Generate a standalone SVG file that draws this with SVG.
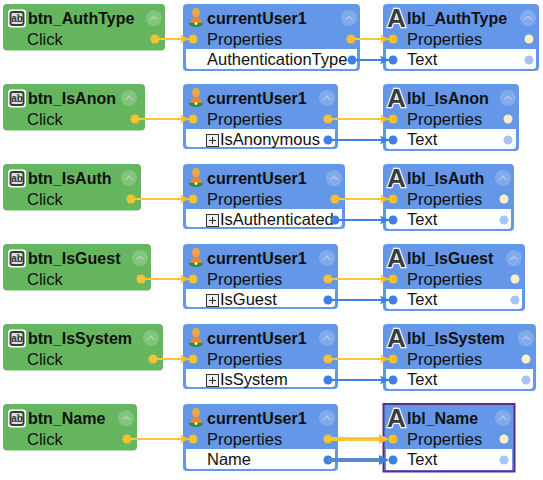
<svg xmlns="http://www.w3.org/2000/svg" xmlns:xlink="http://www.w3.org/1999/xlink" width="543" height="480" viewBox="0 0 543 480">
<style>
text{font-family:"Liberation Sans",Arial,sans-serif;fill:#111}
.t{font-size:16px;font-weight:bold}
.r{font-size:16.5px}
.g{fill:#65b65f}
.b{fill:#6497e8}
.w{fill:#fff}
.y{fill:#fbc02d}
.d{fill:#3f7fe3}
.py{fill:#fdeec6}
.pb{fill:#a5c3f3}
.cy{stroke:#fbc43c;stroke-width:2;fill:none}
.cb{stroke:#3f7fe3;stroke-width:2;fill:none}
.ab{font-size:10px;font-weight:bold;fill:#333}
.A{font-size:26px;font-weight:bold;fill:#3c3c3c;stroke:#fff;stroke-width:2.4px;paint-order:stroke}
</style>
<defs>
<marker id="ay" markerWidth="10" markerHeight="10" refX="9" refY="4.500" orient="auto" markerUnits="userSpaceOnUse"><path d="M0 0L9 4.500L0 9L2 4.500Z" fill="#fbc02d"/></marker>
<marker id="ab" markerWidth="10" markerHeight="10" refX="9" refY="4.500" orient="auto" markerUnits="userSpaceOnUse"><path d="M0 0L9 4.500L0 9L2 4.500Z" fill="#3f7fe3"/></marker>
<g id="col"><circle r="8" fill="#fff" fill-opacity=".2"/><path d="M-3.500 1.500L0-1.500L3.500 1.500" fill="none" stroke="#fff" stroke-opacity=".35" stroke-width="1.600"/></g>
<g id="btn"><rect x="8" y="9.500" width="18" height="18" rx="3" fill="#fff"/><rect x="9.500" y="11" width="15" height="15" rx="3" fill="#3a3a3a"/><rect x="11.500" y="13" width="11" height="11" rx="1" fill="#ddd"/></g>
<g id="usr"><ellipse cx="196" cy="23.500" rx="7" ry="3.500" fill="#2f8a3a"/><path d="M190 23C190.500 18 193 17 196 17C199 17 201.500 18 202 23Z" fill="#d98a3a"/><ellipse cx="196" cy="12.500" rx="4" ry="4.800" fill="#f0a24e"/><circle cx="196" cy="23.500" r="1.500" fill="#e8f5e8"/></g>
<g id="plus"><rect x="206.500" y="54.500" width="12" height="12" fill="#eee" stroke="#333"/><path d="M209 60.500H216M212.500 57V64" stroke="#333"/></g>
</defs>

<g id="btn_AuthType"><rect class="g" x="3" y="4" width="162" height="46.500" rx="4"/><use xlink:href="#btn"/><text class="ab" x="17" y="22" text-anchor="middle">ab</text><text class="t" x="28" y="24">btn_AuthType</text><text class="r" x="27" y="45">Click</text><use xlink:href="#col" x="154" y="18"/><circle class="y" cx="155" cy="39" r="4.500"/></g>
<g id="btn_IsAnon" transform="translate(0 80)"><rect class="g" x="3" y="4" width="142" height="46.500" rx="4"/><use xlink:href="#btn"/><text class="ab" x="17" y="22" text-anchor="middle">ab</text><text class="t" x="28" y="24">btn_IsAnon</text><text class="r" x="27" y="45">Click</text><use xlink:href="#col" x="129" y="18"/><circle class="y" cx="135" cy="39" r="4.500"/></g>
<g id="btn_IsAuth" transform="translate(0 160)"><rect class="g" x="3" y="4" width="138" height="46.500" rx="4"/><use xlink:href="#btn"/><text class="ab" x="17" y="22" text-anchor="middle">ab</text><text class="t" x="28" y="24">btn_IsAuth</text><text class="r" x="27" y="45">Click</text><use xlink:href="#col" x="129" y="18"/><circle class="y" cx="131" cy="39" r="4.500"/></g>
<g id="btn_IsGuest" transform="translate(0 240)"><rect class="g" x="3" y="4" width="148" height="46.500" rx="4"/><use xlink:href="#btn"/><text class="ab" x="17" y="22" text-anchor="middle">ab</text><text class="t" x="28" y="24">btn_IsGuest</text><text class="r" x="27" y="45">Click</text><use xlink:href="#col" x="140" y="18"/><circle class="y" cx="141" cy="39" r="4.500"/></g>
<g id="btn_IsSystem" transform="translate(0 320)"><rect class="g" x="3" y="4" width="160" height="46.500" rx="4"/><use xlink:href="#btn"/><text class="ab" x="17" y="22" text-anchor="middle">ab</text><text class="t" x="28" y="24">btn_IsSystem</text><text class="r" x="27" y="45">Click</text><use xlink:href="#col" x="151" y="18"/><circle class="y" cx="153" cy="39" r="4.500"/></g>
<g id="btn_Name" transform="translate(0 400)"><rect class="g" x="3" y="4" width="134" height="46.500" rx="4"/><use xlink:href="#btn"/><text class="ab" x="17" y="22" text-anchor="middle">ab</text><text class="t" x="28" y="24">btn_Name</text><text class="r" x="27" y="45">Click</text><use xlink:href="#col" x="126" y="18"/><circle class="y" cx="127" cy="39" r="4.500"/></g>

<g id="currentUser1_AuthType"><rect class="b" x="183" y="4" width="177" height="67" rx="4"/><path class="w" d="M186 49H357V66a3 3 0 0 1-3 3H189a3 3 0 0 1-3-3Z"/><use xlink:href="#usr"/><text class="t" x="207" y="24">currentUser1</text><text class="r" x="207" y="45">Properties</text><text class="r" x="207" y="65">AuthenticationType</text><use xlink:href="#col" x="349" y="18"/><circle class="y" cx="193" cy="39" r="4.500"/><circle class="y" cx="351" cy="39" r="4.500"/><circle class="d" cx="352" cy="60" r="4.500"/></g>
<g id="currentUser1_IsAnon" transform="translate(0 80)"><rect class="b" x="183" y="4" width="155" height="65" rx="4"/><path class="w" d="M186 49H335V64a3 3 0 0 1-3 3H189a3 3 0 0 1-3-3Z"/><use xlink:href="#usr"/><text class="t" x="207" y="24">currentUser1</text><text class="r" x="207" y="45">Properties</text><use xlink:href="#plus"/><text class="r" x="220" y="65">IsAnonymous</text><use xlink:href="#col" x="327" y="18"/><circle class="y" cx="193" cy="39" r="4.500"/><circle class="y" cx="328" cy="39" r="4.500"/><circle class="d" cx="328" cy="60" r="4.500"/></g>
<g id="currentUser1_IsAuth" transform="translate(0 160)"><rect class="b" x="183" y="4" width="162" height="65" rx="4"/><path class="w" d="M186 49H342V64a3 3 0 0 1-3 3H189a3 3 0 0 1-3-3Z"/><use xlink:href="#usr"/><text class="t" x="207" y="24">currentUser1</text><text class="r" x="207" y="45">Properties</text><use xlink:href="#plus"/><text class="r" x="220" y="65">IsAuthenticated</text><use xlink:href="#col" x="334" y="18"/><circle class="y" cx="193" cy="39" r="4.500"/><circle class="y" cx="335" cy="39" r="4.500"/><circle class="d" cx="335" cy="60" r="4.500"/></g>
<g id="currentUser1_IsGuest" transform="translate(0 240)"><rect class="b" x="183" y="4" width="155" height="65" rx="4"/><path class="w" d="M186 49H335V64a3 3 0 0 1-3 3H189a3 3 0 0 1-3-3Z"/><use xlink:href="#usr"/><text class="t" x="207" y="24">currentUser1</text><text class="r" x="207" y="45">Properties</text><use xlink:href="#plus"/><text class="r" x="220" y="65">IsGuest</text><use xlink:href="#col" x="327" y="18"/><circle class="y" cx="193" cy="39" r="4.500"/><circle class="y" cx="328" cy="39" r="4.500"/><circle class="d" cx="328" cy="60" r="4.500"/></g>
<g id="currentUser1_IsSystem" transform="translate(0 320)"><rect class="b" x="183" y="4" width="155" height="65" rx="4"/><path class="w" d="M186 49H335V64a3 3 0 0 1-3 3H189a3 3 0 0 1-3-3Z"/><use xlink:href="#usr"/><text class="t" x="207" y="24">currentUser1</text><text class="r" x="207" y="45">Properties</text><use xlink:href="#plus"/><text class="r" x="220" y="65">IsSystem</text><use xlink:href="#col" x="327" y="18"/><circle class="y" cx="193" cy="39" r="4.500"/><circle class="y" cx="328" cy="39" r="4.500"/><circle class="d" cx="328" cy="60" r="4.500"/></g>
<g id="currentUser1_Name" transform="translate(0 400)"><rect class="b" x="183" y="4" width="155" height="67" rx="4"/><path class="w" d="M186 49H335V66a3 3 0 0 1-3 3H189a3 3 0 0 1-3-3Z"/><use xlink:href="#usr"/><text class="t" x="207" y="24">currentUser1</text><text class="r" x="207" y="45">Properties</text><text class="r" x="207" y="65">Name</text><use xlink:href="#col" x="327" y="18"/><circle class="y" cx="193" cy="39" r="4.500"/><circle class="y" cx="328" cy="39" r="4.500"/><circle class="d" cx="328" cy="60" r="4.500"/></g>

<g id="lbl_AuthType"><rect class="b" x="383" y="4" width="156" height="67" rx="4"/><path class="w" d="M386 49H536V66a3 3 0 0 1-3 3H389a3 3 0 0 1-3-3Z"/><text class="A" x="387" y="27">A</text><text class="t" x="407" y="24">lbl_AuthType</text><text class="r" x="407" y="45">Properties</text><text class="r" x="407" y="65">Text</text><use xlink:href="#col" x="528" y="18"/><circle class="y" cx="393" cy="39" r="4.500"/><circle class="d" cx="393" cy="60" r="4.500"/><circle class="py" cx="529" cy="39" r="4.500"/><circle class="pb" cx="529" cy="60" r="4.500"/></g>
<g id="lbl_IsAnon" transform="translate(0 80)"><rect class="b" x="383" y="4" width="136" height="67" rx="4"/><path class="w" d="M386 49H516V66a3 3 0 0 1-3 3H389a3 3 0 0 1-3-3Z"/><text class="A" x="387" y="27">A</text><text class="t" x="407" y="24">lbl_IsAnon</text><text class="r" x="407" y="45">Properties</text><text class="r" x="407" y="65">Text</text><use xlink:href="#col" x="508" y="18"/><circle class="y" cx="393" cy="39" r="4.500"/><circle class="d" cx="393" cy="60" r="4.500"/><circle class="py" cx="508" cy="39" r="4.500"/><circle class="pb" cx="508" cy="60" r="4.500"/></g>
<g id="lbl_IsAuth" transform="translate(0 160)"><rect class="b" x="383" y="4" width="131" height="67" rx="4"/><path class="w" d="M386 49H511V66a3 3 0 0 1-3 3H389a3 3 0 0 1-3-3Z"/><text class="A" x="387" y="27">A</text><text class="t" x="407" y="24">lbl_IsAuth</text><text class="r" x="407" y="45">Properties</text><text class="r" x="407" y="65">Text</text><use xlink:href="#col" x="503" y="18"/><circle class="y" cx="393" cy="39" r="4.500"/><circle class="d" cx="393" cy="60" r="4.500"/><circle class="py" cx="504" cy="39" r="4.500"/><circle class="pb" cx="504" cy="60" r="4.500"/></g>
<g id="lbl_IsGuest" transform="translate(0 240)"><rect class="b" x="383" y="4" width="142" height="67" rx="4"/><path class="w" d="M386 49H522V66a3 3 0 0 1-3 3H389a3 3 0 0 1-3-3Z"/><text class="A" x="387" y="27">A</text><text class="t" x="407" y="24">lbl_IsGuest</text><text class="r" x="407" y="45">Properties</text><text class="r" x="407" y="65">Text</text><use xlink:href="#col" x="514" y="18"/><circle class="y" cx="393" cy="39" r="4.500"/><circle class="d" cx="393" cy="60" r="4.500"/><circle class="py" cx="515" cy="39" r="4.500"/><circle class="pb" cx="515" cy="60" r="4.500"/></g>
<g id="lbl_IsSystem" transform="translate(0 320)"><rect class="b" x="383" y="4" width="153" height="67" rx="4"/><path class="w" d="M386 49H533V66a3 3 0 0 1-3 3H389a3 3 0 0 1-3-3Z"/><text class="A" x="387" y="27">A</text><text class="t" x="407" y="24">lbl_IsSystem</text><text class="r" x="407" y="45">Properties</text><text class="r" x="407" y="65">Text</text><use xlink:href="#col" x="526" y="18"/><circle class="y" cx="393" cy="39" r="4.500"/><circle class="d" cx="393" cy="60" r="4.500"/><circle class="py" cx="526" cy="39" r="4.500"/><circle class="pb" cx="526" cy="60" r="4.500"/></g>
<g id="lbl_Name" transform="translate(0 400)"><rect class="b" x="383.500" y="4" width="131" height="67.500" stroke="#5f2a87" stroke-width="2"/><rect class="w" x="386" y="49" width="126" height="21"/><text class="A" x="387" y="27">A</text><text class="t" x="407" y="24">lbl_Name</text><text class="r" x="407" y="45">Properties</text><text class="r" x="407" y="65">Text</text><use xlink:href="#col" x="503" y="18"/><circle class="y" cx="393" cy="39" r="4.500"/><circle class="d" cx="393" cy="60" r="4.500"/><circle class="py" cx="504" cy="39" r="4.500"/><circle class="pb" cx="504" cy="60" r="4.500"/></g>

<g id="connectors">
<path class="cy" d="M155 39H189" marker-end="url(#ay)"/>
<path class="cy" d="M351 39H389" marker-end="url(#ay)"/>
<path class="cb" d="M352 60H389" marker-end="url(#ab)"/>
<path class="cy" d="M135 119H189" marker-end="url(#ay)"/>
<path class="cy" d="M328 119H389" marker-end="url(#ay)"/>
<path class="cb" d="M328 140H389" marker-end="url(#ab)"/>
<path class="cy" d="M131 199H189" marker-end="url(#ay)"/>
<path class="cy" d="M335 199H389" marker-end="url(#ay)"/>
<path class="cb" d="M335 220H389" marker-end="url(#ab)"/>
<path class="cy" d="M141 279H189" marker-end="url(#ay)"/>
<path class="cy" d="M328 279H389" marker-end="url(#ay)"/>
<path class="cb" d="M328 300H389" marker-end="url(#ab)"/>
<path class="cy" d="M153 359H189" marker-end="url(#ay)"/>
<path class="cy" d="M328 359H389" marker-end="url(#ay)"/>
<path class="cb" d="M328 380H389" marker-end="url(#ab)"/>
<path class="cy" d="M127 439H189" marker-end="url(#ay)"/>
<path d="M328 439H384" stroke="#fbc43c" stroke-width="4" fill="none"/><path d="M379 434L389 439L379 444Z" fill="#fbc02d"/>
<path d="M328 460H384" stroke="#5b86c8" stroke-width="4" fill="none"/><path d="M379 455L389 460L379 465Z" fill="#3f7fe3"/>
</g>
</svg>
